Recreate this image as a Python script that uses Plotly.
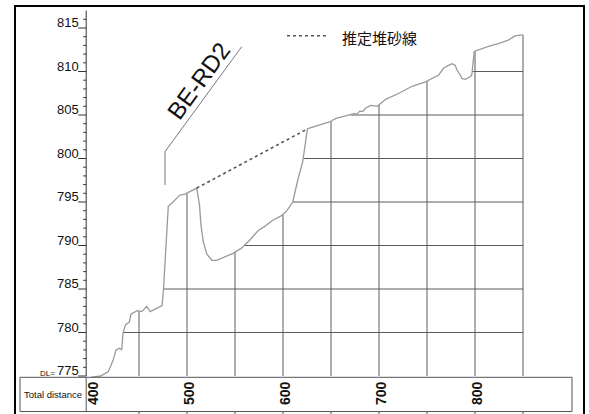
import numpy as np
import plotly.graph_objects as go

# ---------------- data ----------------
dist = [400, 410, 418, 423, 426, 429.5, 432, 433.3, 436, 440, 441.6, 448, 453, 458, 461.7,
        474, 475.5, 480.5, 484, 489.3, 492.7, 497.9, 499.7, 504.9, 510.1,
        513, 514.5, 517, 520.7, 526, 531, 548, 556.7, 565.3, 574, 581, 589.4, 598, 603.3,
        610.2, 615.3, 620.5, 623.3, 625.4, 627.5, 641.3, 648.3, 655.2, 670.7, 674, 677,
        680, 683, 686.2, 691.4, 698.3, 706.9, 720.7, 734.5, 748.4, 762.2, 767.4, 772.5,
        776, 779.5, 781, 784.7, 786.3, 789.8, 795, 796.7, 797.7, 799.2, 814, 824.4, 834.7,
        841.7, 848.5, 850]
elev = [774.85, 775.0, 775.5, 776.8, 778.0, 778.2, 778.0, 779.9, 780.9, 781.2, 782.1, 782.5, 782.4, 783.0, 782.4,
        783.1, 784.9, 794.5, 794.85, 795.5, 795.8, 795.9, 796.0, 796.3, 796.6,
        794.7, 792.4, 790.4, 789.0, 788.3, 788.3, 789.1, 789.7, 790.6, 791.7, 792.2, 792.9, 793.4, 793.9,
        795.0, 797.5, 799.6, 801.7, 803.4, 803.5, 804.0, 804.2, 804.6, 805.0, 805.15, 805.1,
        805.45, 805.4, 805.8, 806.1, 806.0, 806.8, 807.5, 808.3, 808.8, 809.6, 810.4, 810.7,
        810.9, 810.7, 810.2, 809.6, 809.2, 809.1, 809.4, 809.6, 810.6, 812.3, 812.9, 813.2, 813.6,
        814.1, 814.2, 814.2]

sed_dist = [510.1, 625.4]          # 推定堆砂線 (estimated sediment line)
sed_elev = [796.6, 803.4]

x_tick_vals = [400, 500, 600, 700, 800]
grid_x = [450, 500, 550, 600, 650, 700, 750, 800, 850]
grid_y = [780, 785, 790, 795, 800, 805, 810]
y_major = [775, 780, 785, 790, 795, 800, 805, 810, 815]
y_minor = list(range(775, 817))

AXIS_X = 395
BASE = 775
TOP = 817

# pixel mapping of the drawing: px = 91 + (d-400)*0.96 ; py = 28 + (815-e)*8.7
W, H = 589, 414
XR = [400 - 91 / 0.96, 400 + (W - 91) / 0.96]
YR = [815 - (H - 28) / 8.7, 815 + 28 / 8.7]
PXU = 0.96   # px per distance unit


def px(x):
    return x / W


def py(y):
    return 1 - y / H


d = np.array(dist)
e = np.array(elev)


def last_cross(level):
    xc = None
    for i in range(len(d) - 1):
        a, b = e[i] - level, e[i + 1] - level
        if a * b <= 0 and e[i] != e[i + 1]:
            xc = d[i] + (level - e[i]) * (d[i + 1] - d[i]) / (e[i + 1] - e[i])
    return xc


fig = go.Figure()

GRID_C = "#5a5a5a"

# vertical grid lines (from base up to the ground line)
vx, vy = [], []
for gx in grid_x:
    vx += [gx, gx, None]
    vy += [BASE, float(np.interp(gx, d, e)), None]
fig.add_trace(go.Scatter(x=vx, y=vy, mode="lines", line=dict(color=GRID_C, width=1),
                         hoverinfo="skip"))

# horizontal grid lines (from the ground line to the right end)
hx, hy = [], []
for gy in grid_y:
    xc = last_cross(gy)
    if xc is not None:
        hx += [xc, dist[-1], None]
        hy += [gy, gy, None]
fig.add_trace(go.Scatter(x=hx, y=hy, mode="lines", line=dict(color=GRID_C, width=1),
                         hoverinfo="skip"))

# ground profile
fig.add_trace(go.Scatter(x=dist, y=elev, mode="lines", line=dict(color="#9a9a9a", width=1.3),
                         name="profile"))

# estimated sediment line
fig.add_trace(go.Scatter(x=sed_dist, y=sed_elev, mode="lines",
                         line=dict(color="#555555", width=1.6, dash="dot"), name="推定堆砂線"))

# y axis line + ticks
fig.add_trace(go.Scatter(x=[AXIS_X, AXIS_X], y=[BASE, TOP], mode="lines",
                         line=dict(color="#333333", width=1), hoverinfo="skip"))
tx, ty = [], []
for v in y_minor:
    ln = 8 if v in y_major else 3
    tx += [AXIS_X - ln / PXU, AXIS_X, None]
    ty += [v, v, None]
fig.add_trace(go.Scatter(x=tx, y=ty, mode="lines", line=dict(color="#333333", width=1),
                         hoverinfo="skip"))

SANS = "Liberation Sans, Arial, sans-serif"
ann = []
for v in y_major:
    ann.append(dict(x=AXIS_X, y=v, xref="x", yref="y", text=str(v), showarrow=False,
                    xanchor="right", yanchor="bottom", xshift=-5, yshift=-4,
                    font=dict(family=SANS, size=13, color="#111111")))
ann.append(dict(x=AXIS_X, y=BASE, xref="x", yref="y", text="DL=", showarrow=False,
                xanchor="right", yanchor="bottom", xshift=-29, yshift=-4,
                font=dict(family=SANS, size=8, color="#111111")))

for v in x_tick_vals:
    ann.append(dict(x=v, y=py(393.5), xref="x", yref="paper", text=str(v), showarrow=False,
                    textangle=-90, xanchor="center", yanchor="middle", xshift=1.5,
                    font=dict(family=SANS, size=14, color="#111111", weight="bold")))

ann.append(dict(x=px(53), y=py(394), xref="paper", yref="paper", text="Total distance",
                showarrow=False, xanchor="center", yanchor="middle",
                font=dict(family=SANS, size=9.5, color="#111111")))

ann.append(dict(x=px(340), y=py(38), xref="paper", yref="paper", text="推定堆砂線",
                showarrow=False, xanchor="left", yanchor="middle",
                font=dict(family="Noto Sans CJK JP, sans-serif", size=15, color="#111111")))

ann.append(dict(x=px(199), y=py(81), xref="paper", yref="paper", text="BE-RD2",
                showarrow=False, textangle=-54, xanchor="center", yanchor="middle",
                font=dict(family=SANS, size=24, color="#111111")))

shapes = []
# outer frame
shapes.append(dict(type="rect", xref="paper", yref="paper", x0=px(15), x1=px(584),
                   y0=py(430), y1=py(6), line=dict(color="#000000", width=2)))
# table
TB_C = "#555555"
shapes.append(dict(type="rect", xref="paper", yref="paper", x0=px(20), x1=px(572),
                   y0=py(411.5), y1=py(377.3), line=dict(color=TB_C, width=1)))
shapes.append(dict(type="line", xref="paper", yref="paper", x0=px(86.2), x1=px(86.2),
                   y0=py(411.5), y1=py(377.3), line=dict(color=TB_C, width=1)))
for gx in grid_x:
    shapes.append(dict(type="line", xref="x", yref="paper", x0=gx, x1=gx,
                       y0=py(411.5), y1=py(416), line=dict(color=TB_C, width=1)))
# legend sample
shapes.append(dict(type="line", xref="paper", yref="paper", x0=px(287), x1=px(328),
                   y0=py(35.7), y1=py(35.7), line=dict(color="#555555", width=1.5, dash="dot")))
# BE-RD2 leader line
shapes.append(dict(type="path", xref="paper", yref="paper",
                   path=f"M {px(165)},{py(185)} L {px(165)},{py(151.7)} L {px(241.7)},{py(46.7)}",
                   line=dict(color="#777777", width=1)))

fig.update_layout(
    width=W, height=H, margin=dict(l=0, r=0, t=0, b=0),
    paper_bgcolor="white", plot_bgcolor="white", showlegend=False,
    xaxis=dict(range=XR, visible=False, fixedrange=True),
    yaxis=dict(range=YR, visible=False, fixedrange=True),
    annotations=ann, shapes=shapes,
)

fig.write_html("out.html")
